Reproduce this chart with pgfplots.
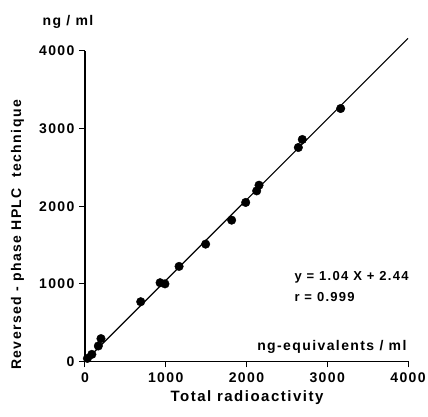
\documentclass[border=0pt]{standalone}
\usepackage{pgfplots}
\pgfplotsset{compat=1.18}
\usepackage{fontspec}
\setmainfont{Liberation Sans}[LetterSpace=10]
\begin{document}
\begin{tikzpicture}
\path[use as bounding box] (-85pt,-55.5pt) rectangle (343pt,361.5pt);
\begin{axis}[
  scale only axis, width=323pt, height=310.5pt,
  at={(0,0)}, anchor=south west,
  xmin=0, xmax=4000, ymin=0, ymax=4000,
  axis lines=left, axis line style={-, line width=1.3pt},
  clip=false,
  xtick={0,1000,2000,3000,4000}, ytick={0,1000,2000,3000,4000},
  tick align=outside, major tick length=6pt,
  tick style={line width=1pt, black},
  /pgf/number format/assume math mode=true,
  /pgf/number format/1000 sep={},
  ticklabel style={font=\fontsize{14}{16}\selectfont\bfseries},
  xticklabel style={yshift=-2pt},
  yticklabel style={xshift=-1pt},
]
\addplot[black, line width=1.2pt] coordinates {(0,2.44) (4000,4162.44)};
\addplot[only marks, mark=*, mark size=4.3pt, black] coordinates {
(30,40) (85,92) (165,200) (198,295) (690,770) (930,1015) (990,1000)
(1165,1225) (1494,1512) (1816,1821) (1990,2049) (2126,2198) (2155,2271)
(2642,2757) (2691,2860) (3166,3259)
};
\end{axis}
\begin{scope}[font=\fontsize{14}{16}\selectfont\bfseries]
\node at (-17pt,339.5pt) {ng / ml};
\node[rotate=90] at (-67.5pt,126.5pt) {Reversed - phase HPLC \ technique};
\node[anchor=east] at (325pt,14.8pt) {ng-equivalents / ml};
\node[font=\fontsize{15}{17}\selectfont\bfseries] at (162pt,-36.5pt) {Total radioactivity};
\node[anchor=west, font=\fontsize{13}{15}\selectfont\bfseries] at (206pt,84.5pt) {y = 1.04 X + 2.44};
\node[anchor=west, font=\fontsize{13}{15}\selectfont\bfseries] at (206pt,64.5pt) {r = 0.999};
\end{scope}
\end{tikzpicture}
\end{document}
